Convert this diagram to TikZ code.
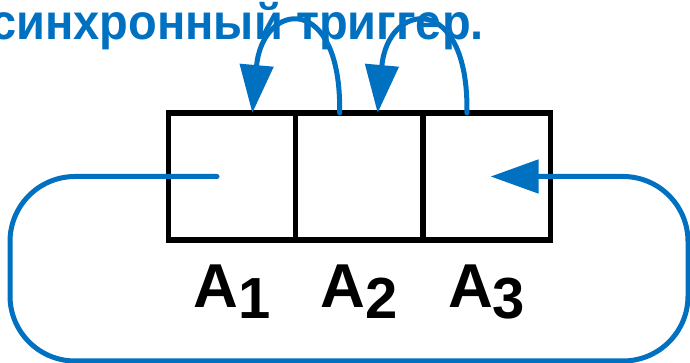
\documentclass[tikz,border=0pt]{standalone}
\usepackage{fontspec}
\setmainfont{Liberation Sans}
\usetikzlibrary{arrows.meta, positioning, calc}
\definecolor{wireblue}{HTML}{0070C0}
% register name with a lowered index
\newcommand{\areg}[1]{A\raisebox{-11pt}{\fontsize{58}{58}\selectfont #1}}
\tikzset{
  cell/.style={draw=black, line width=5.5pt, minimum width=127.3pt, minimum height=127pt,
               inner sep=0pt, outer sep=0pt},
  lbl/.style={font=\fontsize{62}{62}\selectfont\bfseries, inner sep=0pt},
  headline/.style={font=\fontsize{50}{50}\selectfont\bfseries, text=wireblue, inner sep=0pt},
  flow/.style={-{Triangle[length=48pt, width=33pt]}, line width=5pt, draw=wireblue, line cap=round},
}

\begin{document}
\begin{tikzpicture}[x=1pt, y=1pt]
  \useasboundingbox (0,0) rectangle (690,363);

  % title
  \node[headline, anchor=base west] (head) at (-10,323) {\scalebox{0.94}[1]{синхронный триггер.}};

  % the three cells
  \node[cell] (cell1) at (232,186.5) {};
  \node[cell, right=0pt of cell1] (cell2) {};
  \node[cell, right=0pt of cell2] (cell3) {};

  \node[lbl, below=25pt of cell1] (lab1) {\areg{1}};
  \node[lbl, below=25pt of cell2] (lab2) {\areg{2}};
  \node[lbl, below=25pt of cell3] (lab3) {\areg{3}};

  % shift arcs
  \coordinate (out2) at ($(cell2.north west)+(44,0)$);
  \coordinate (in1)  at ($(cell1.north west)+(84,0)$);
  \coordinate (out3) at ($(cell3.north west)+(44,0)$);
  \coordinate (in2)  at ($(cell2.north west)+(82,0)$);
  \draw[flow] (out2) .. controls +(2,122) and +(10,112) .. (in1);
  \draw[flow] (out3) .. controls +(2,122) and +(10,112) .. (in2);

  % feedback loop from A1 back into A3
  \coordinate (loopstart) at ($(cell1.center)+(-15,0)$);
  \coordinate (loopsw) at (10,2);
  \coordinate (loopse) at (688,2);
  \coordinate (loopend) at ($(cell3.center)+(4,0)$);
  \draw[flow, rounded corners=65pt] (loopstart) -| (loopsw) -- (loopse) |- (loopend);
\end{tikzpicture}
\end{document}
